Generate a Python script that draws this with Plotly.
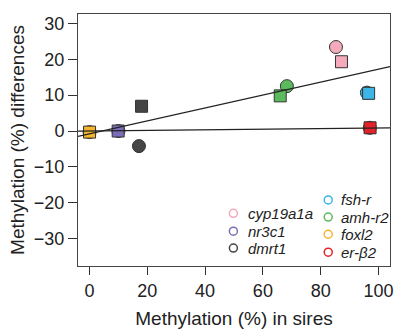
import plotly.graph_objects as go

genes = ["cyp19a1a", "nr3c1", "dmrt1", "fsh-r", "amh-r2", "foxl2", "er-β2"]
colors = ["#F4AABA", "#7B6DB8", "#454545", "#3DB5E6", "#5CBA5E", "#F2B52C", "#E5202A"]

# circles (first group) and squares (second group)
circ_x = [85.3, 10.0, 17.1, 96.0, 68.3, 0.0, 97.0]
circ_y = [23.4, 0.0, -4.2, 10.7, 12.5, -0.3, 0.9]
sq_x = [87.2, 9.9, 18.0, 96.6, 66.0, 0.0, 97.1]
sq_y = [19.3, 0.0, 6.9, 10.5, 9.8, -0.3, 0.9]

# regression lines: (intercept, slope)
line_params = [(0.03, 0.008), (-0.78, 0.18)]

x_ticks = [0, 20, 40, 60, 80, 100]
y_ticks = [30, 20, 10, 0, -10, -20, -30]
x_range = [-4, 104]
y_range = [-37.6, 32.6]

fig = go.Figure()
fig.add_trace(go.Scatter(x=circ_x, y=circ_y, mode="markers",
                         marker=dict(symbol="circle", size=13, color=colors,
                                     line=dict(color="#333333", width=1)),
                         showlegend=False, hoverinfo="skip"))
fig.add_trace(go.Scatter(x=sq_x, y=sq_y, mode="markers",
                         marker=dict(symbol="square", size=12, color=colors,
                                     line=dict(color="#333333", width=1)),
                         showlegend=False, hoverinfo="skip"))
for a, b in line_params:
    fig.add_trace(go.Scatter(x=x_range, y=[a + b * x_range[0], a + b * x_range[1]],
                             mode="lines", line=dict(color="#222222", width=1.2),
                             showlegend=False, hoverinfo="skip"))

# custom two-column legend
font = dict(family="Liberation Sans, Arial, sans-serif", size=15, color="#222222")
col_specs = [(0.498, 0.54, [0.209, 0.138, 0.071]),
             (0.802, 0.837, [0.262, 0.194, 0.126, 0.055])]
k = 0
for mx, tx, ys in col_specs:
    for yp in ys:
        fig.add_annotation(x=tx, y=yp, xref="paper", yref="paper",
                           text="<i>%s</i>" % genes[k], showarrow=False,
                           xanchor="left", yanchor="middle", font=font)
        fig.add_shape(type="circle", xref="paper", yref="paper",
                      xsizemode="pixel", ysizemode="pixel",
                      xanchor=mx, yanchor=yp, x0=-4, x1=4, y0=-4, y1=4,
                      line=dict(color=colors[k], width=1.5))
        k += 1

axfont = dict(family="Liberation Sans, Arial, sans-serif", size=19, color="#222222")
tickfont = dict(family="Liberation Sans, Arial, sans-serif", size=18, color="#222222")
fig.update_layout(
    width=399, height=332,
    margin=dict(l=78, r=6, t=14, b=65),
    plot_bgcolor="white", paper_bgcolor="white",
    xaxis=dict(range=x_range, tickvals=x_ticks, ticks="outside", ticklen=8,
               tickcolor="#333333", showgrid=False, zeroline=False,
               showline=True, linecolor="#444444", mirror=True,
               tickfont=tickfont,
               title=dict(text="Methylation (%) in sires", font=axfont, standoff=12)),
    yaxis=dict(range=y_range, tickvals=y_ticks, ticks="outside", ticklen=9,
               tickcolor="#333333", showgrid=False, zeroline=False,
               showline=True, linecolor="#444444", mirror=True,
               tickfont=tickfont,
               title=dict(text="Methylation (%) differences", font=axfont, standoff=4)),
)
fig.write_html("out.html")
